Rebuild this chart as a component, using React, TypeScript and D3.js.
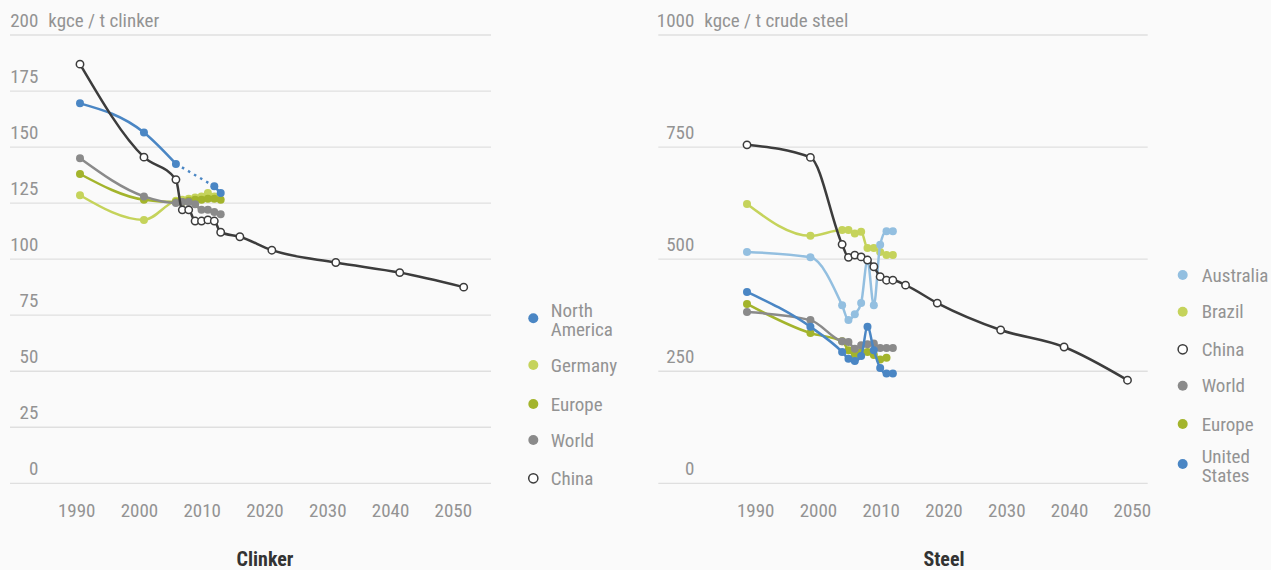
import React from 'react';
import * as d3 from 'd3';

const W = 1271;
const H = 570;
const FONT = "'Roboto Condensed', 'Liberation Sans Narrow', Roboto, sans-serif";
const TEXT = '#939393';
const GRID = '#dfdfdf';
const BG = '#fafafa';

const C_BLUE = '#4a86c4';
const C_LIGHTGREEN = '#c5d35b';
const C_OLIVE = '#a3b42c';
const C_GRAY = '#8a8a8a';
const C_CHINA = '#3c3c3c';
const C_LIGHTBLUE = '#93bfe0';

// ---------- Clinker data (kgce / t clinker) ----------
const naClinkerYears = [1990, 2000, 2005, 2011, 2012];
const naClinkerValues = [169.5, 156.5, 142.5, 132.5, 129.5];
const naDottedFrom = 2005;
const naDottedTo = 2011;

const germanyClinkerYears = [1990, 2000, 2005, 2006, 2007, 2008, 2009, 2010, 2011];
const germanyClinkerValues = [128.5, 117.5, 126, 126.5, 127, 127.5, 128, 129.5, 128];

const europeClinkerYears = [1990, 2000, 2005, 2006, 2007, 2008, 2009, 2010, 2011, 2012];
const europeClinkerValues = [138, 126.5, 125.5, 125.5, 126, 126.5, 126.5, 127, 127, 126.5];

const worldClinkerYears = [1990, 2000, 2005, 2006, 2007, 2008, 2009, 2010, 2011, 2012];
const worldClinkerValues = [145, 128, 125, 125.5, 125.5, 124.5, 122, 122, 121, 120];

const chinaClinkerYears = [1990, 2000, 2005, 2006, 2007, 2008, 2009, 2010, 2011, 2012, 2015, 2020, 2030, 2040, 2050];
const chinaClinkerValues = [187, 145.5, 135.5, 122, 122, 117, 117, 117.5, 117, 112, 110, 104, 98.5, 94, 87.5];

// ---------- Steel data (kgce / t crude steel) ----------
const australiaSteelYears = [1990, 2000, 2005, 2006, 2007, 2008, 2009, 2010, 2011, 2012, 2013];
const australiaSteelValues = [516, 504, 397, 364, 377, 402, 497, 397, 532, 562, 562];

const brazilSteelYears = [1990, 2000, 2005, 2006, 2007, 2008, 2009, 2010, 2011, 2012, 2013];
const brazilSteelValues = [623, 552, 565, 565, 557, 561, 525, 525, 516, 509, 509];

const chinaSteelYears = [1990, 2000, 2005, 2006, 2007, 2008, 2009, 2010, 2011, 2012, 2013, 2015, 2020, 2030, 2040, 2050];
const chinaSteelValues = [755, 727, 533, 504, 509, 505, 498, 483, 461, 453, 453, 442, 402, 342, 304, 230];

const worldSteelYears = [1990, 2000, 2005, 2006, 2007, 2008, 2009, 2010, 2011, 2012, 2013];
const worldSteelValues = [382, 364, 317, 315, 300, 308, 310, 312, 302, 302, 302];

const europeSteelYears = [1990, 2000, 2005, 2006, 2007, 2008, 2009, 2010, 2011, 2012];
const europeSteelValues = [400, 335, 317, 297, 286, 293, 293, 286, 276, 280];

const usSteelYears = [1990, 2000, 2005, 2006, 2007, 2008, 2009, 2010, 2011, 2012, 2013];
const usSteelValues = [427, 349, 293, 278, 273, 284, 349, 297, 257, 245, 245];

// ---------- Axes ----------
const xTickYears = [1990, 2000, 2010, 2020, 2030, 2040, 2050];
const clinkerYTicks = [0, 25, 50, 75, 100, 125, 150, 175, 200];
const steelYTicks = [0, 250, 500, 750, 1000];

type Series = {
  name: string[];
  color: string;
  hollow?: boolean;
  years: number[];
  values: number[];
  dotted?: [number, number];
};

const clinkerDraw: Series[] = [
  { name: ['Germany'], color: C_LIGHTGREEN, years: germanyClinkerYears, values: germanyClinkerValues },
  { name: ['Europe'], color: C_OLIVE, years: europeClinkerYears, values: europeClinkerValues },
  { name: ['World'], color: C_GRAY, years: worldClinkerYears, values: worldClinkerValues },
  { name: ['North', 'America'], color: C_BLUE, years: naClinkerYears, values: naClinkerValues, dotted: [naDottedFrom, naDottedTo] },
  { name: ['China'], color: C_CHINA, hollow: true, years: chinaClinkerYears, values: chinaClinkerValues },
];
const clinkerLegend = ['North America', 'Germany', 'Europe', 'World', 'China'];

const steelDraw: Series[] = [
  { name: ['Brazil'], color: C_LIGHTGREEN, years: brazilSteelYears, values: brazilSteelValues },
  { name: ['Australia'], color: C_LIGHTBLUE, years: australiaSteelYears, values: australiaSteelValues },
  { name: ['Europe'], color: C_OLIVE, years: europeSteelYears, values: europeSteelValues },
  { name: ['World'], color: C_GRAY, years: worldSteelYears, values: worldSteelValues },
  { name: ['United', 'States'], color: C_BLUE, years: usSteelYears, values: usSteelValues },
  { name: ['China'], color: C_CHINA, hollow: true, years: chinaSteelYears, values: chinaSteelValues },
];
const steelLegend = ['Australia', 'Brazil', 'China', 'World', 'Europe', 'United States'];

type PanelProps = {
  series: Series[];
  legendOrder: string[];
  yMax: number;
  yTicks: number[];
  unit: string;
  title: string;
  gridX0: number;
  gridX1: number;
  dataX0: number;
  dataX1: number;
  labelX0: number;
  labelX1: number;
  yLabelRight: number;
  legendDotX: number;
  legendTextX: number;
  legendY: number[];
};

const Y_TOP = 35;
const Y_BOTTOM = 483.3;
const FW = 400;

function Panel(p: PanelProps) {
  const x = d3.scaleLinear().domain([1990, 2050]).range([p.dataX0, p.dataX1]);
  const xl = d3.scaleLinear().domain([1990, 2050]).range([p.labelX0, p.labelX1]);
  const y = d3.scaleLinear().domain([0, p.yMax]).range([Y_BOTTOM, Y_TOP]);
  const line = d3
    .line<[number, number]>()
    .x((d) => x(d[0]))
    .y((d) => y(d[1]))
    .curve(d3.curveMonotoneX);
  const straight = d3
    .line<[number, number]>()
    .x((d) => x(d[0]))
    .y((d) => y(d[1]));

  const byName = new Map(p.series.map((s) => [s.name.join(' '), s]));

  return (
    <g>
      {p.yTicks.map((t) => (
        <g key={t}>
          <line x1={p.gridX0} x2={p.gridX1} y1={y(t)} y2={y(t)} stroke={GRID} strokeWidth={1.3} />
          <text x={p.yLabelRight} y={y(t) - 8} textAnchor="end" fill={TEXT} fontSize={19} fontWeight={FW} fontFamily={FONT}>
            {t}
          </text>
        </g>
      ))}
      <text x={p.yLabelRight + 10} y={y(p.yMax) - 8} fill={TEXT} fontSize={19} fontWeight={FW} fontFamily={FONT}>
        {p.unit}
      </text>
      {xTickYears.map((t) => (
        <text key={t} x={xl(t)} y={517.3} textAnchor="middle" fill={TEXT} fontSize={19} fontWeight={FW} fontFamily={FONT}>
          {t}
        </text>
      ))}
      <text
        x={(p.labelX0 + p.labelX1) / 2}
        y={566}
        textAnchor="middle"
        fill="#333"
        fontSize={20}
        fontWeight="bold"
        fontFamily={FONT}
      >
        {p.title}
      </text>

      {p.series.map((s, i) => {
        const pts: [number, number][] = s.years.map((yr, j) => [yr, s.values[j]]);
        let paths: React.ReactNode[] = [];
        if (s.dotted) {
          const [a, b] = s.dotted;
          const before = pts.filter((d) => d[0] <= a);
          const mid = pts.filter((d) => d[0] === a || d[0] === b);
          const after = pts.filter((d) => d[0] >= b);
          paths = [
            <path key="a" d={line(before) || ''} fill="none" stroke={s.color} strokeWidth={2.5} />,
            <path
              key="m"
              d={straight(mid) || ''}
              fill="none"
              stroke={s.color}
              strokeWidth={2.5}
              strokeDasharray="2.5 4.5"
            />,
            <path key="b" d={straight(after) || ''} fill="none" stroke={s.color} strokeWidth={2.5} />,
          ];
        } else {
          paths = [<path key="l" d={line(pts) || ''} fill="none" stroke={s.color} strokeWidth={2.5} />];
        }
        return (
          <g key={i}>
            {paths}
            {pts.map((d, j) =>
              s.hollow ? (
                <circle key={j} cx={x(d[0])} cy={y(d[1])} r={3.7} fill="#fff" stroke={s.color} strokeWidth={1.5} />
              ) : (
                <circle key={j} cx={x(d[0])} cy={y(d[1])} r={4} fill={s.color} />
              )
            )}
          </g>
        );
      })}

      {p.legendOrder.map((nm, i) => {
        const s = byName.get(nm)!;
        const cy = p.legendY[i];
        return (
          <g key={nm}>
            {s.hollow ? (
              <circle cx={p.legendDotX} cy={cy} r={4.6} fill="#fff" stroke={s.color} strokeWidth={1.5} />
            ) : (
              <circle cx={p.legendDotX} cy={cy} r={5} fill={s.color} />
            )}
            {s.name.map((ln, k) => (
              <text
                key={k}
                x={p.legendTextX}
                y={s.name.length === 1 ? cy + 6.7 : cy - 1.5 + k * 19}
                fill={TEXT}
                fontSize={19}
                fontWeight={FW}
                fontFamily={FONT}
              >
                {ln}
              </text>
            ))}
          </g>
        );
      })}
    </g>
  );
}

export default function App() {
  return (
    <svg
      width={W}
      height={H}
      viewBox={`0 0 ${W} ${H}`}
      style={{ position: 'absolute', left: 0, top: 0, display: 'block' }}
    >
      <rect x={0} y={0} width={W} height={H} fill={BG} />
      <Panel
        series={clinkerDraw}
        legendOrder={clinkerLegend}
        yMax={200}
        yTicks={clinkerYTicks}
        unit="kgce / t clinker"
        title="Clinker"
        gridX0={10}
        gridX1={491}
        dataX0={80}
        dataX1={463.7}
        labelX0={76.7}
        labelX1={453.3}
        yLabelRight={38.3}
        legendDotX={533.3}
        legendTextX={550.7}
        legendY={[318.3, 365, 404, 440, 478.3]}
      />
      <Panel
        series={steelDraw}
        legendOrder={steelLegend}
        yMax={1000}
        yTicks={steelYTicks}
        unit="kgce / t crude steel"
        title="Steel"
        gridX0={658.3}
        gridX1={1147.7}
        dataX0={747}
        dataX1={1127.5}
        labelX0={755.7}
        labelX1={1132.3}
        yLabelRight={694.3}
        legendDotX={1182.7}
        legendTextX={1201.7}
        legendY={[275, 311.7, 349.3, 385.7, 424, 464]}
      />
    </svg>
  );
}
